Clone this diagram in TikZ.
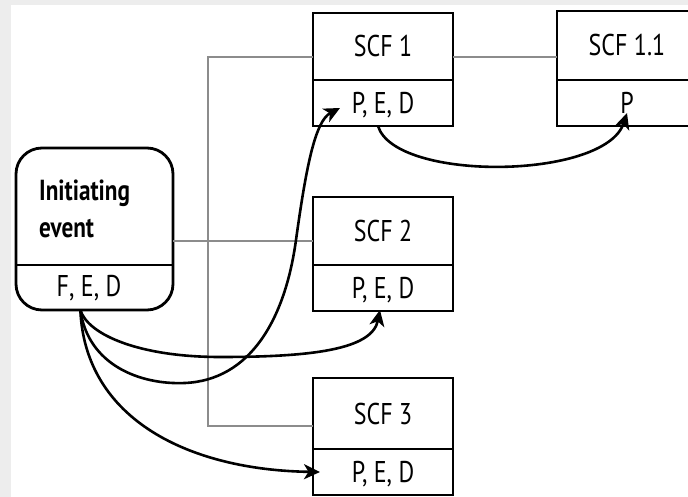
\documentclass[tikz,border=0pt]{standalone}
\usepackage{fontspec}
\newfontfamily\lab{PT Sans}[FakeStretch=0.8]
\usetikzlibrary{arrows.meta,calc}

\tikzset{
  boxline/.style={draw=black, line width=2.8pt},
  cell/.style={boxline, rectangle, minimum width=140pt, inner sep=0pt, outer sep=0pt,
    font=\lab\fontsize{30}{34}\selectfont, text height=21pt, text depth=0pt},
  tree/.style={draw=black!45, line width=1.5pt},
  flow/.style={draw=black, line width=2.6pt, -{Stealth[length=16pt,width=15pt,inset=4.5pt]}},
  plain/.style={font=\lab\fontsize{30}{34}\selectfont, inner sep=0pt},
  heading/.style={font=\lab\bfseries\fontsize{29}{34}\selectfont, inner sep=0pt},
}

\begin{document}
\begin{tikzpicture}[x=1pt, y=-1pt]
  \useasboundingbox (0,0) rectangle (688,497);
  % page background with a light frame on the top and left
  \fill[black!7] (0,0) rectangle (688,497);
  \fill[white] (11,5) rectangle (688,497);

  % initiating event
  \node[boxline, rounded corners=26pt, minimum width=157pt, minimum height=162pt,
        inner sep=0pt, outer sep=0pt, anchor=north west] (ie) at (16,148) {};
  \draw[boxline] (ie.west |- 0,265) -- (ie.east |- 0,265);
  \node[heading, anchor=base west] (ie1) at (39,201) {Initiating};
  \node[heading, anchor=base west] (ie2) at (39,237) {event};
  \node[plain, anchor=base] (ie3) at (89,296) {F, E, D};

  % safety critical functions
  \node[cell, minimum height=67pt, anchor=north west] (scf1) at (313,13) {SCF 1};
  \node[cell, minimum height=46pt, anchor=north] (scf1p) at (scf1.south) {P, E, D};

  \node[cell, minimum height=69pt, anchor=north west] (scf11) at (557,11) {SCF 1.1};
  \node[cell, minimum height=46pt, anchor=north] (scf11p) at (scf11.south) {P};

  \node[cell, minimum height=68pt, anchor=north west] (scf2) at (313,197) {SCF 2};
  \node[cell, minimum height=46pt, anchor=north] (scf2p) at (scf2.south) {P, E, D};

  \node[cell, minimum height=71pt, anchor=north west] (scf3) at (313,378) {SCF 3};
  \node[cell, minimum height=46pt, anchor=north] (scf3p) at (scf3.south) {P, E, D};

  % hierarchy lines
  \coordinate (trunk) at (208,0);
  \draw[tree] (ie.east |- 0,241) -- (scf2.west |- 0,241);
  \draw[tree] (scf1.west |- 0,57) -- (trunk |- 0,57) -- (trunk |- 0,426) -- (scf3.west |- 0,426);
  \draw[tree] (scf1.east |- 0,57) -- (scf11.west |- 0,57);

  % propagation arrows
  \coordinate (src) at ($(ie.south west)!0.41!(ie.south east)$);
  \draw[flow] (src) .. controls (88,335) and (140,357) .. (220,357)
              .. controls (310,357) and (372,350) .. ($(scf2p.south)+(-3,-1)$);
  \draw[flow] (src) .. controls (88,365) and (140,385) .. (185,383)
              .. controls (250,380) and (285,320) .. (296,240)
              .. controls (306,168) and (315,121) .. ($(scf1p.west)+(27,5)$);
  \draw[flow] (src) .. controls (85,420) and (190,470) .. ($(scf3p.west)+(7,0)$);
  \draw[flow] ($(scf1p.south)+(-5,0)$) .. controls (395,182) and (605,180)
              .. ($(scf11p.south)+(0,-13)$);
\end{tikzpicture}
\end{document}
